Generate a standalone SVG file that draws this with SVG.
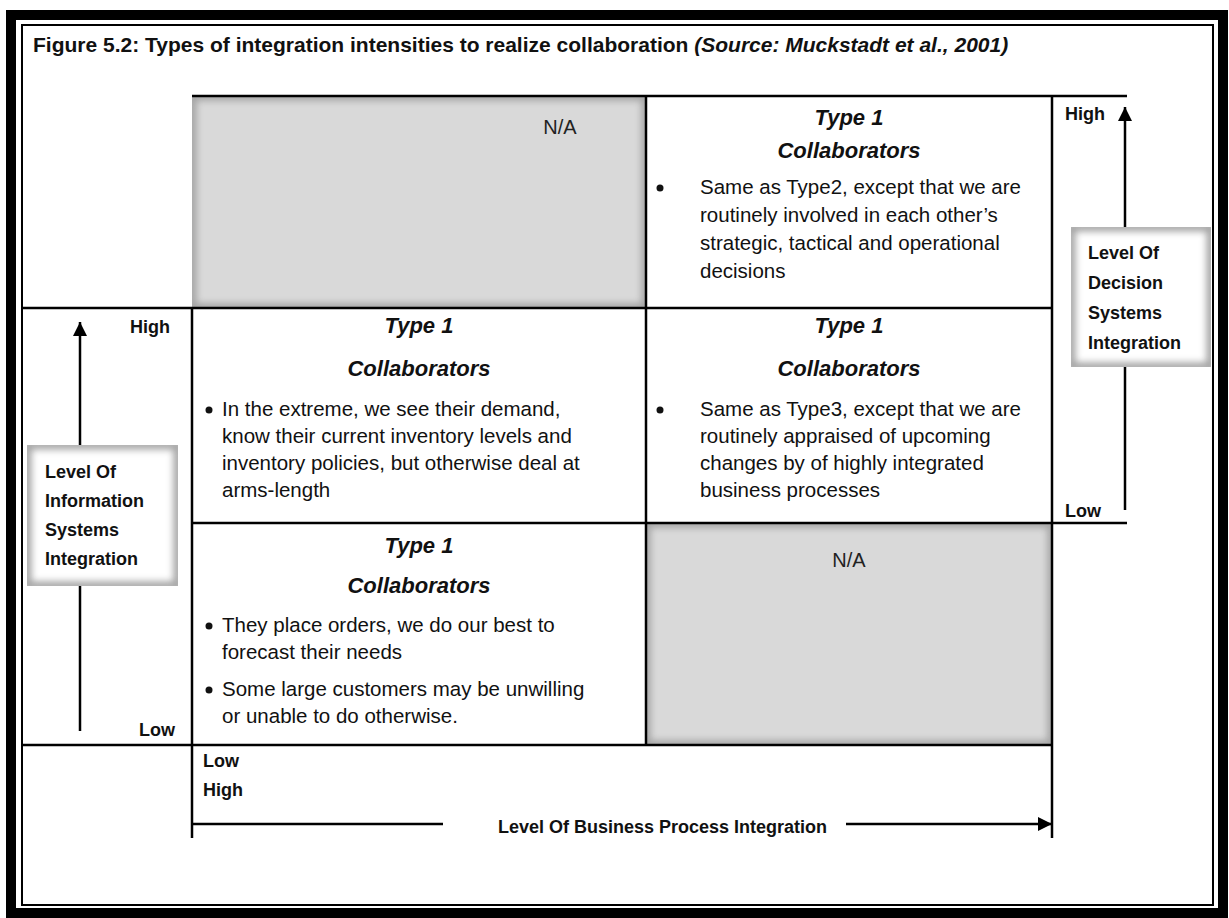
<svg xmlns="http://www.w3.org/2000/svg" width="1229" height="918" viewBox="0 0 1229 918">
  <style>
    text { font-family: "Liberation Sans", Arial, sans-serif; fill: #111; }
    .title { font-size: 21px; font-weight: bold; }
    .head { font-size: 22px; font-weight: bold; font-style: italic; text-anchor: middle; }
    .body { font-size: 20.5px; }
    .na { font-size: 20px; text-anchor: middle; fill: #222; }
    .ax { font-size: 18px; font-weight: bold; }
    .rule { stroke: #000; stroke-width: 2.5; fill: none; }
    .arrow { stroke: #000; stroke-width: 2.5; fill: none; }
    .shade { fill: none; stroke: #a3a3a3; stroke-width: 9; }
  </style>
  <defs>
    <filter id="soft" x="-20%" y="-20%" width="140%" height="140%">
      <feGaussianBlur stdDeviation="3.5"/>
    </filter>
    <marker id="head" viewBox="0 0 10 10" refX="10" refY="5" markerUnits="userSpaceOnUse" markerWidth="16" markerHeight="14" orient="auto">
      <path d="M0,0 L10,5 L0,10 z" fill="#000"/>
    </marker>
    <clipPath id="clipNaTop"><rect x="192" y="96" width="454" height="212"/></clipPath>
    <clipPath id="clipNaBottom"><rect x="646" y="523" width="406" height="222"/></clipPath>
    <clipPath id="clipInfo"><rect x="27" y="445" width="151" height="141"/></clipPath>
    <clipPath id="clipDecision"><rect x="1071" y="227" width="140" height="140"/></clipPath>
  </defs>

  <rect width="1229" height="918" fill="#fff"/>

  <!-- double page frame -->
  <g id="frame">
    <rect x="11" y="15" width="1212" height="898" fill="none" stroke="#000" stroke-width="10"/>
    <rect x="22" y="25" width="1191" height="880" fill="none" stroke="#000" stroke-width="2"/>
  </g>

  <g id="title">
    <text class="title" x="33" y="52">Figure 5.2: Types of integration intensities to realize collaboration <tspan font-style="italic">(Source: Muckstadt et al., 2001)</tspan></text>
  </g>

  <!-- shaded empty cells -->
  <g id="na-top">
    <rect x="192" y="96" width="454" height="212" fill="#d9d9d9"/>
    <rect class="shade" x="192" y="96" width="454" height="212" filter="url(#soft)" clip-path="url(#clipNaTop)"/>
    <text class="na" x="560" y="134">N/A</text>
  </g>
  <g id="na-bottom">
    <rect x="646" y="523" width="406" height="222" fill="#d9d9d9"/>
    <rect class="shade" x="646" y="523" width="406" height="222" filter="url(#soft)" clip-path="url(#clipNaBottom)"/>
    <text class="na" x="849" y="567">N/A</text>
  </g>

  <!-- quadrant grid -->
  <g id="grid">
    <line class="rule" x1="192" y1="96" x2="1127" y2="96"/>
    <line class="rule" x1="22" y1="308" x2="1052" y2="308"/>
    <line class="rule" x1="192" y1="523" x2="1127" y2="523"/>
    <line class="rule" x1="22" y1="745" x2="1052" y2="745"/>
    <line class="rule" x1="192" y1="308" x2="192" y2="838"/>
    <line class="rule" x1="646" y1="96" x2="646" y2="745"/>
    <line class="rule" x1="1052" y1="96" x2="1052" y2="838"/>
  </g>

  <g id="cell-top-right">
    <text class="head" x="849" y="125">Type 1</text>
    <text class="head" x="849" y="158">Collaborators</text>
    <circle cx="660" cy="188" r="3.5" fill="#111"/>
    <text class="body" x="700" y="194">Same as Type2, except that we are</text>
    <text class="body" x="700" y="222">routinely involved in each other’s</text>
    <text class="body" x="700" y="250">strategic, tactical and operational</text>
    <text class="body" x="700" y="278">decisions</text>
  </g>

  <g id="cell-mid-left">
    <text class="head" x="419" y="333">Type 1</text>
    <text class="head" x="419" y="376">Collaborators</text>
    <circle cx="209" cy="410" r="3.5" fill="#111"/>
    <text class="body" x="222" y="416">In the extreme, we see their demand,</text>
    <text class="body" x="222" y="443">know their current inventory levels and</text>
    <text class="body" x="222" y="470">inventory policies, but otherwise deal at</text>
    <text class="body" x="222" y="497">arms-length</text>
  </g>

  <g id="cell-mid-right">
    <text class="head" x="849" y="333">Type 1</text>
    <text class="head" x="849" y="376">Collaborators</text>
    <circle cx="660" cy="410" r="3.5" fill="#111"/>
    <text class="body" x="700" y="416">Same as Type3, except that we are</text>
    <text class="body" x="700" y="443">routinely appraised of upcoming</text>
    <text class="body" x="700" y="470">changes by of highly integrated</text>
    <text class="body" x="700" y="497">business processes</text>
  </g>

  <g id="cell-bottom-left">
    <text class="head" x="419" y="553">Type 1</text>
    <text class="head" x="419" y="593">Collaborators</text>
    <circle cx="209" cy="626" r="3.5" fill="#111"/>
    <text class="body" x="222" y="632">They place orders, we do our best to</text>
    <text class="body" x="222" y="659">forecast their needs</text>
    <circle cx="209" cy="690" r="3.5" fill="#111"/>
    <text class="body" x="222" y="696">Some large customers may be unwilling</text>
    <text class="body" x="222" y="723">or unable to do otherwise.</text>
  </g>

  <!-- axis label boxes -->
  <g id="axis-information">
    <rect x="27" y="445" width="151" height="141" fill="#fff"/>
    <rect class="shade" x="27" y="445" width="151" height="141" filter="url(#soft)" clip-path="url(#clipInfo)"/>
    <text class="ax" x="45" y="478">Level Of</text>
    <text class="ax" x="45" y="507">Information</text>
    <text class="ax" x="45" y="536">Systems</text>
    <text class="ax" x="45" y="565">Integration</text>
  </g>
  <g id="axis-decision">
    <rect x="1071" y="227" width="140" height="140" fill="#fff"/>
    <rect class="shade" x="1071" y="227" width="140" height="140" filter="url(#soft)" clip-path="url(#clipDecision)"/>
    <text class="ax" x="1088" y="259">Level Of</text>
    <text class="ax" x="1088" y="289">Decision</text>
    <text class="ax" x="1088" y="319">Systems</text>
    <text class="ax" x="1088" y="349">Integration</text>
  </g>
  <g id="axis-business">
    <text class="ax" x="498" y="833">Level Of Business Process Integration</text>
  </g>

  <g id="scale-labels">
    <text class="ax" x="170" y="333" text-anchor="end">High</text>
    <text class="ax" x="175" y="736" text-anchor="end">Low</text>
    <text class="ax" x="1065" y="120">High</text>
    <text class="ax" x="1065" y="517">Low</text>
    <text class="ax" x="203" y="767">Low</text>
    <text class="ax" x="203" y="796">High</text>
  </g>

  <!-- axis arrows -->
  <g id="connectors">
    <line class="arrow" x1="80" y1="445" x2="80" y2="322" marker-end="url(#head)"/>
    <line class="arrow" x1="80" y1="586" x2="80" y2="731"/>
    <line class="arrow" x1="1125" y1="227" x2="1125" y2="107" marker-end="url(#head)"/>
    <line class="arrow" x1="1125" y1="367" x2="1125" y2="510"/>
    <line class="arrow" x1="192" y1="824" x2="443" y2="824"/>
    <line class="arrow" x1="846" y1="824" x2="1052" y2="824" marker-end="url(#head)"/>
  </g>
</svg>
